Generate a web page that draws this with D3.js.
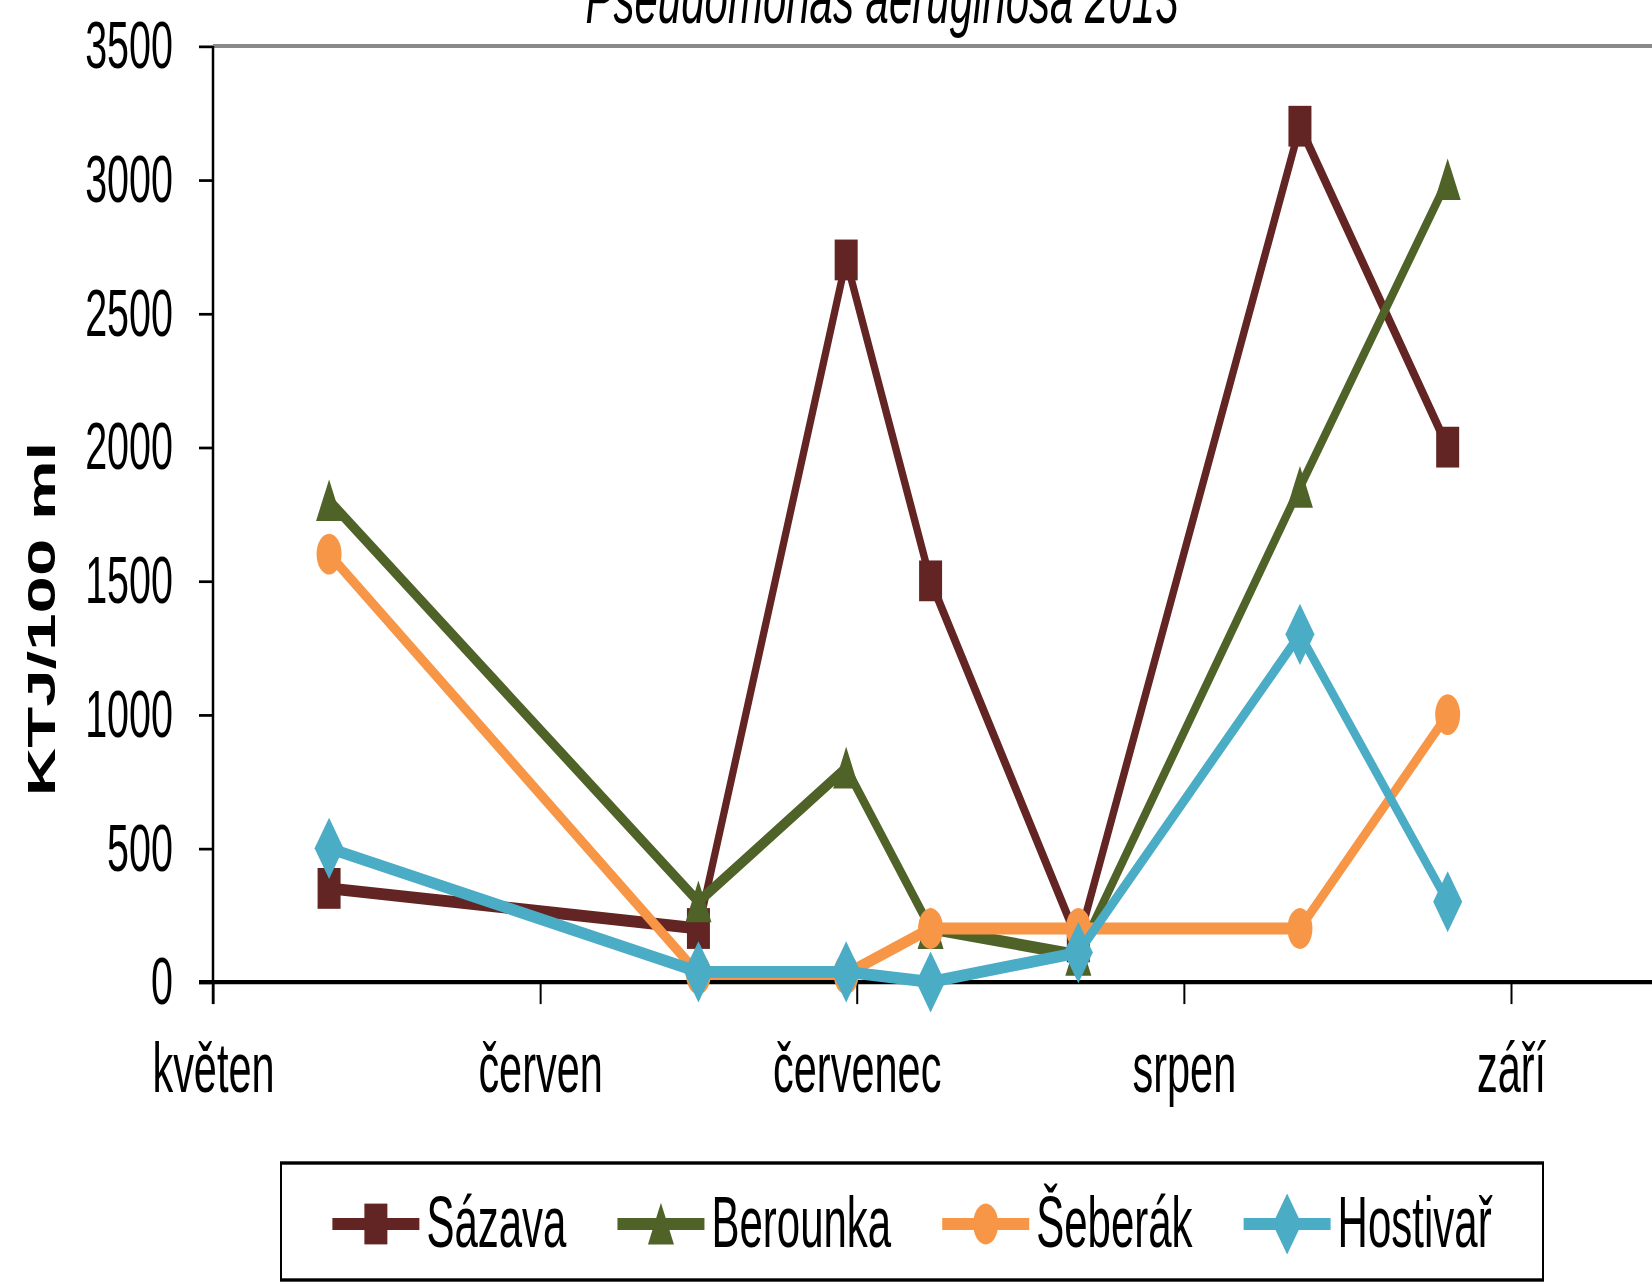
<!DOCTYPE html>
<html>
<head>
<meta charset="utf-8">
<script src="https://cdn.jsdelivr.net/npm/d3@7"></script>
<style>
  body { margin: 0; background: #fff; }
  svg { display: block; }
  text { font-family: "Liberation Sans", Arial, sans-serif; fill: #000; }
</style>
</head>
<body>
<svg id="chart" width="1652" height="1283"></svg>
<script>
// Sampling dates and counts (KTJ/100 ml) per site
const sampleDates = ["2013-05-12", "2013-06-16", "2013-06-30", "2013-07-08", "2013-07-22", "2013-08-12", "2013-08-26"];
const sazava   = [350, 200, 2700, 1500, 150, 3200, 2000];
const berounka = [1800, 300, 800, 200, 100, 1850, 3000];
const seberak  = [1600, 30, 30, 200, 200, 200, 1000];
const hostivar = [500, 38, 38, 0, 110, 1300, 300];

const seriesNames  = ["Sázava", "Berounka", "Šeberák", "Hostivař"];
const seriesColors = ["#632523", "#4F6228", "#F79646", "#4BACC6"];
const seriesMarks  = ["square", "triangle", "circle", "diamond"];
const monthLabels  = ["květen", "červen", "červenec", "srpen", "září"];
const yTicks       = [0, 500, 1000, 1500, 2000, 2500, 3000, 3500];

const titleText = "Pseudomonas aeruginosa 2013";
const yTitle = "KTJ/100 ml";

// The whole chart is drawn in a vertically stretched frame
const SY = 1.7;
const W = 1652, H = 1283;
const parse = d3.timeParse("%Y-%m-%d");

const svg = d3.select("#chart");
const g = svg.append("g").attr("transform", `scale(1,${SY})`);

const x = d3.scaleTime()
  .domain([new Date(2013, 4, 1), new Date(2013, 8, 1)])
  .range([213, 1511]);
const y = d3.scaleLinear()
  .domain([0, 3500])
  .range([982 / SY, 46 / SY]);

const monthTicks = d3.timeMonth.range(new Date(2013, 4, 1), new Date(2013, 8, 2));

// plot area top border
g.append("line")
  .attr("x1", x.range()[0]).attr("x2", W)
  .attr("y1", y(3500)).attr("y2", y(3500))
  .attr("stroke", "#8a8a8a").attr("stroke-width", 2.4);

// y axis
const yAxisG = g.append("g")
  .attr("transform", `translate(${x.range()[0]},0)`)
  .call(d3.axisLeft(y).tickValues(yTicks).tickFormat(d3.format("d"))
    .tickSize(14).tickPadding(26).tickSizeOuter(0));
yAxisG.select(".domain").remove();
yAxisG.selectAll(".tick line").attr("stroke", "#000").attr("stroke-width", 1.6);
yAxisG.selectAll(".tick text")
  .attr("font-size", 39.5)
  .attr("font-family", "Liberation Sans, Arial, sans-serif")
  .attr("fill", "#000");

// x axis
const xAxisG = g.append("g")
  .attr("transform", `translate(0,${y(0)})`)
  .call(d3.axisBottom(x).tickValues(monthTicks).tickFormat((d, i) => monthLabels[i]).tickSize(13).tickSizeOuter(0));
xAxisG.select(".domain").remove();
xAxisG.selectAll(".tick line").attr("stroke", "#000").attr("stroke-width", 2);
xAxisG.selectAll(".tick text")
  .attr("font-size", 41.5)
  .attr("font-family", "Liberation Sans, Arial, sans-serif")
  .attr("fill", "#000")
  .attr("y", (1092 - 982) / SY)
  .attr("dy", 0);

// axis lines
g.append("line")
  .attr("x1", x.range()[0] - 14).attr("x2", W)
  .attr("y1", y(0)).attr("y2", y(0))
  .attr("stroke", "#000").attr("stroke-width", 2.5);
g.append("line")
  .attr("x1", x.range()[0]).attr("x2", x.range()[0])
  .attr("y1", y(3500)).attr("y2", y(0) + 13)
  .attr("stroke", "#000").attr("stroke-width", 2.5);

// marker shapes, centred on the point
function markerPath(type) {
  switch (type) {
    case "square":   return "M-11.5,-12H11.5V12H-11.5Z";
    case "triangle": return "M0,-12.5L13,12L-13,12Z";
    case "circle":   return "M-12.5,0A12.5,12 0 1,0 12.5,0A12.5,12 0 1,0 -12.5,0Z";
    case "diamond":  return "M0,-18L14.5,0L0,18L-14.5,0Z";
  }
}

const allValues = [sazava, berounka, seberak, hostivar];
const line = d3.line().x(d => x(d.date)).y(d => y(d.value));

allValues.forEach((vals, si) => {
  const pts = vals.map((v, i) => ({ date: parse(sampleDates[i]), value: v }));
  const sg = g.append("g").attr("class", "series");
  sg.append("path")
    .datum(pts)
    .attr("d", line)
    .attr("fill", "none")
    .attr("stroke", seriesColors[si])
    .attr("stroke-width", 7)
    .attr("stroke-linejoin", "round");
  sg.selectAll("path.mark")
    .data(pts)
    .join("path")
    .attr("class", "mark")
    .attr("d", markerPath(seriesMarks[si]))
    .attr("transform", d => `translate(${x(d.date)},${y(d.value)})`)
    .attr("fill", seriesColors[si]);
});

// title
g.append("text")
  .attr("x", 882).attr("y", 23 / SY)
  .attr("text-anchor", "middle")
  .attr("font-size", 42)
  .attr("font-style", "italic")
  .text(titleText);

// y axis title
g.append("text")
  .attr("transform", `translate(55,${619 / SY}) rotate(-90)`)
  .attr("text-anchor", "middle")
  .attr("font-size", 39.5)
  .attr("font-weight", "bold")
  .text(yTitle);

// legend
const legendBox = { x: 281, y: 1163 / SY, w: 1262, h: (1280 - 1163) / SY };
g.append("rect")
  .attr("x", legendBox.x).attr("y", legendBox.y)
  .attr("width", legendBox.w).attr("height", legendBox.h)
  .attr("fill", "#fff").attr("stroke", "#000").attr("stroke-width", 2);

const legendG = g.append("g");
const sampleLen = 87, textGap = 7, itemGap = 51;
const legendMidY = 1224 / SY;
const items = seriesNames.map((name, si) => {
  const it = legendG.append("g");
  it.append("line")
    .attr("x1", 0).attr("x2", sampleLen)
    .attr("y1", legendMidY).attr("y2", legendMidY)
    .attr("stroke", seriesColors[si]).attr("stroke-width", 7);
  it.append("path")
    .attr("d", markerPath(seriesMarks[si]))
    .attr("transform", `translate(${sampleLen / 2},${legendMidY})`)
    .attr("fill", seriesColors[si]);
  const t = it.append("text")
    .attr("x", sampleLen + textGap).attr("y", 1247 / SY)
    .attr("font-size", 42)
    .text(name);
  return { g: it, w: sampleLen + textGap + t.node().getComputedTextLength() };
});
const total = d3.sum(items, d => d.w) + itemGap * (items.length - 1);
let cx = legendBox.x + legendBox.w / 2 - total / 2;
items.forEach(it => {
  it.g.attr("transform", `translate(${cx},0)`);
  cx += it.w + itemGap;
});
</script>
</body>
</html>
